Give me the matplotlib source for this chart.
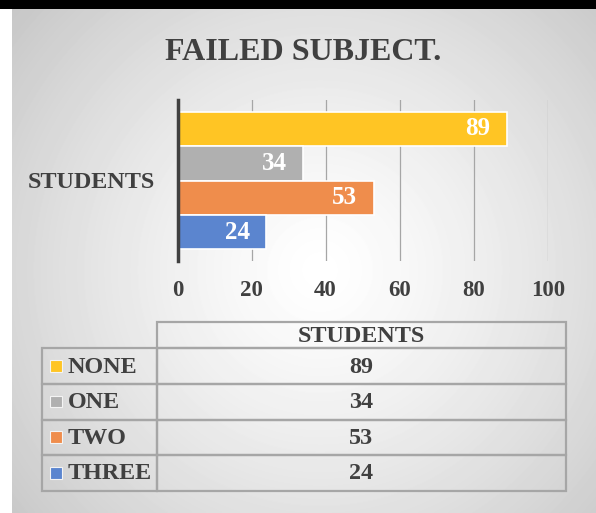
import matplotlib

matplotlib.use("Agg")
import matplotlib.pyplot as plt
import numpy as np
from matplotlib.patches import Rectangle

# chart data
title = "FAILED SUBJECT."
category = "STUDENTS"
series_names = ["NONE", "ONE", "TWO", "THREE"]
series_values = [89, 34, 53, 24]
series_colors = ["#FFC524", "#B0B0B0", "#EF8D4C", "#5B85CF"]
x_ticks = [0, 20, 40, 60, 80, 100]

W, H = 596, 513
TEXT = "#404040"
GRID = "#a6a6a6"
plt.rcParams["font.family"] = ["Liberation Serif", "DejaVu Serif"]
plt.rcParams["font.weight"] = "bold"

fig = plt.figure(figsize=(W / 100, H / 100), dpi=100, facecolor="white")

# radial grey background
bg = fig.add_axes([12 / W, 0, (W - 12) / W, (H - 9) / H], zorder=0)
yy, xx = np.mgrid[9:H, 12:W]
r = np.hypot(xx - 320, yy - 270)
shade = 1.0 - 0.22 * (r / r.max()) ** 1.3
bg.imshow(shade, cmap="gray", vmin=0, vmax=1, aspect="auto", interpolation="bilinear")
bg.axis("off")

# black strip at the top
strip = fig.add_axes([0, (H - 9) / H, 1, 9 / H], zorder=1)
strip.set_facecolor("black")
strip.set_xticks([])
strip.set_yticks([])
for s in strip.spines.values():
    s.set_visible(False)

# bar chart
ax = fig.add_axes([177.5 / W, 1 - 261 / H, (547.7 - 177.5) / W, 161 / H], zorder=2)
ax.patch.set_alpha(0)
ypos = np.arange(len(series_values))[::-1]
bars = ax.barh(ypos, series_values, height=1.0, color=series_colors,
               edgecolor="white", linewidth=1.2, zorder=3)
for bar, val in zip(bars, series_values):
    ax.annotate(str(val), (bar.get_width(), bar.get_y() + bar.get_height() / 2),
                xytext=(-12, 0), textcoords="offset points", ha="right",
                va="center", color="white", fontsize=18, fontweight="bold", zorder=4)
ax.set_xlim(0, 100)
ax.set_ylim(-0.84, len(series_values) - 0.16)
ax.set_xticks(x_ticks)
ax.set_xticklabels([str(t) for t in x_ticks])
ax.set_yticks([(len(series_values) - 1) / 2])
ax.set_yticklabels([category])
ax.grid(axis="x", color=GRID, linewidth=0.9, zorder=0)
ax.set_axisbelow(True)
for name in ("top", "right", "bottom"):
    ax.spines[name].set_visible(False)
ax.spines["left"].set_color(TEXT)
ax.spines["left"].set_linewidth(2.5)
ax.spines["left"].set_zorder(5)
ax.tick_params(axis="x", length=0, pad=14, labelsize=16.5, labelcolor=TEXT)
ax.tick_params(axis="y", length=0, pad=16, labelsize=17.4, labelcolor=TEXT)

# title and data table, drawn in pixel space
ov = fig.add_axes([0, 0, 1, 1], zorder=3)
ov.set_xlim(0, W)
ov.set_ylim(H, 0)
ov.axis("off")
ov.text(303.5, 60, title, ha="center", va="baseline", fontsize=23,
        fontweight="bold", color=TEXT)

x_left, x_mid, x_right = 41.7, 157.3, 565.7
y_head, row_h = 321.7, 35.6
head_h = 26.6
lw = 1.6
fs = 17.4
ov.add_patch(Rectangle((x_mid, y_head), x_right - x_mid, head_h, fill=False,
                       edgecolor=GRID, linewidth=lw))
ov.text((x_mid + x_right) / 2, y_head + head_h / 2 + 1, category, ha="center",
        va="center", fontsize=fs, color=TEXT)
y0 = y_head + head_h
for i, (name, val, col) in enumerate(zip(series_names, series_values, series_colors)):
    top = y0 + i * row_h
    ov.add_patch(Rectangle((x_left, top), x_mid - x_left, row_h, fill=False,
                           edgecolor=GRID, linewidth=lw))
    ov.add_patch(Rectangle((x_mid, top), x_right - x_mid, row_h, fill=False,
                           edgecolor=GRID, linewidth=lw))
    ov.add_patch(Rectangle((50, top + row_h / 2 - 6), 11.7, 11.7, facecolor=col,
                           edgecolor="#f4f4f4", linewidth=0.8))
    ov.text(67.5, top + row_h / 2 + 1, name, ha="left", va="center", fontsize=fs,
            color=TEXT)
    ov.text((x_mid + x_right) / 2, top + row_h / 2 + 1, str(val), ha="center",
            va="center", fontsize=fs, color=TEXT)

fig.savefig("out.png", dpi=100)
